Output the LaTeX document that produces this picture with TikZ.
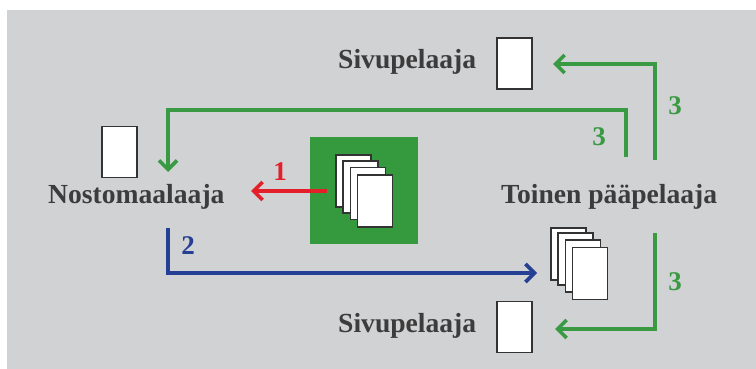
\documentclass[tikz,border=0pt]{standalone}
\usepackage{fontspec}
\setmainfont{Liberation Serif}
\usetikzlibrary{arrows.meta}
\definecolor{bggray}{HTML}{D1D2D4}
\definecolor{txtgray}{HTML}{3C3C3C}
\definecolor{boxgreen}{HTML}{359A3E}
\definecolor{arrgreen}{HTML}{3A9A43}
\definecolor{arrblue}{HTML}{253F94}
\definecolor{arrred}{HTML}{E3202A}
\tikzset{
  lbl/.style={font=\fontsize{27.6}{30}\selectfont\bfseries, text=txtgray, inner sep=0pt},
  num/.style={font=\fontsize{27}{30}\selectfont\bfseries, inner sep=0pt},
  card/.style={draw=black!80, fill=white, line width=1.5pt, minimum width=35pt, minimum height=51pt, inner sep=0pt},
  flow/.style={line width=3.8pt, -{Straight Barb[length=9pt,width=18pt,line width=3.6pt]}},
}
\begin{document}
\begin{tikzpicture}[x=1pt,y=-1pt]
\useasboundingbox (0,0) rectangle (756,369);
\fill[white] (0,0) rectangle (756,369);
\fill[bggray] (7,10) rectangle (756,369);
% texts
\node[lbl, anchor=base west] (sivutop) at (338,69) {Sivupelaaja};
\node[lbl, anchor=base west] (sivubot) at (338,332) {Sivupelaaja};
\node[lbl, anchor=base west] (nosto) at (48,203) {Nostomaalaaja};
\node[lbl, anchor=base west] (toinen) at (501,203) {Toinen pääpelaaja};
% single cards
\node[card] (ctop) at (514.5,63.5) {};
\node[card] (cleft) at (119.5,152) {};
\node[card] (cbot) at (514.5,327) {};
% green box with deck
\node[fill=boxgreen, minimum width=108pt, minimum height=107pt, inner sep=0pt] (deckbox) at (364,190.5) {};
\node[card, minimum height=52pt] (d1) at (353.5,181) {};
\node[card, minimum height=52pt] (d2) at (360.5,187) {};
\node[card, minimum height=52pt] (d3) at (368,193.5) {};
\node[card, minimum height=52pt] (d4) at (375,201) {};
% right stack
\node[card, minimum height=52pt] (r1) at (568.5,254) {};
\node[card, minimum height=52pt] (r2) at (575.5,259) {};
\node[card, minimum height=52pt] (r3) at (583,266) {};
\node[card, minimum height=52pt] (r4) at (590,273.7) {};
% arrow end coordinates
\coordinate (redS) at (327,191);
\coordinate (redE) at (251,191);
\coordinate (gAs) at (626,157);
\coordinate (gAe) at (168,172);
\coordinate (gBs) at (655,160);
\coordinate (gBe) at (553,64);
\coordinate (gCs) at (655,233);
\coordinate (gCe) at (555,329);
\coordinate (bS) at (168,228);
\coordinate (bE) at (537,273);
% arrows
\draw[flow, arrred] (redS) -- (redE);
\node[num, text=arrred] (n1) at (280,172) {1};
\draw[flow, arrgreen] (gAs) |- (gAe |- 0,110) -- (gAe);
\node[num, text=arrgreen] (n3a) at (599,137) {3};
\draw[flow, arrgreen] (gBs) |- (gBe);
\node[num, text=arrgreen] (n3b) at (675,106) {3};
\draw[flow, arrgreen] (gCs) |- (gCe);
\node[num, text=arrgreen] (n3c) at (675,282) {3};
\draw[flow, arrblue] (bS) |- (bE);
\node[num, text=arrblue] (n2) at (188,246) {2};
\end{tikzpicture}
\end{document}
